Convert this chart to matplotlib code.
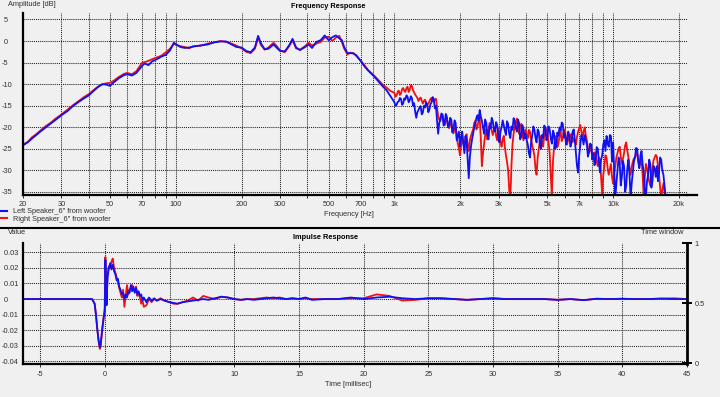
"""
Woofer measurement: frequency response and impulse response, left vs right.
"""
import numpy as np
import matplotlib
matplotlib.use('Agg')
import matplotlib.pyplot as plt
from matplotlib.lines import Line2D
from matplotlib.ticker import FixedLocator, NullFormatter

# frequency response below 1 kHz (Hz, dB)
lf_freq = [20, 21, 22, 23, 24, 25, 26, 27, 28, 30,
           32, 34, 36, 38, 40, 42, 44, 46, 48, 50,
           52, 55, 58, 60, 63, 66, 70, 72, 75, 78,
           82, 86, 90, 94, 98, 100, 105, 110, 115, 120,
           130, 140, 150, 160, 170, 180, 190, 200, 210, 220,
           230, 238, 245, 255, 265, 280, 290, 300, 315, 330,
           342, 355, 370, 390, 405, 420, 440, 460, 480, 500,
           520, 540, 560, 575, 590, 610, 630, 650, 670, 700,
           730, 760, 800, 840, 880, 920, 960]
lf_left = [-24.2, -23.5, -22.6, -21.8, -21.0, -20.3, -19.6, -19.0, -18.4, -17.2,
           -16.2, -15.0, -14.1, -13.3, -12.6, -11.6, -10.7, -10.0, -10.1, -10.4,
           -9.6, -8.6, -7.9, -7.7, -8.0, -7.4, -5.8, -5.2, -5.6, -4.7,
           -4.2, -3.6, -3.2, -2.2, -0.4, -0.7, -1.4, -1.6, -1.5, -1.3,
           -1.0, -0.8, -0.3, -0.1, -0.1, -0.8, -1.4, -1.5, -2.3, -2.6,
           -1.5, 1.2, -0.5, -1.9, -1.8, -0.8, -1.6, -2.3, -2.4, -1.0,
           0.5, -1.5, -2.1, -1.4, -0.8, -1.6, -0.2, 0.2, 1.3, 0.2,
           0.9, 1.3, 0.6, 0.2, -1.5, -2.8, -2.8, -2.9, -3.3, -4.6,
           -5.9, -6.9, -8.0, -9.2, -10.4, -11.4, -12.8]
lf_right = [-24.0, -23.4, -22.3, -21.6, -20.8, -20.0, -19.4, -18.8, -18.1, -17.0,
            -15.9, -14.8, -13.9, -13.0, -12.3, -11.4, -10.6, -10.1, -9.8, -9.7,
            -9.2, -8.3, -7.6, -7.4, -7.7, -7.0, -5.1, -4.9, -4.6, -4.2,
            -3.8, -3.4, -2.6, -1.8, -0.6, -0.9, -1.2, -1.4, -1.7, -1.2,
            -1.1, -0.6, -0.3, 0.0, -0.2, -0.6, -1.1, -1.7, -2.5, -2.8,
            -1.8, 0.8, -0.9, -2.0, -1.5, -0.4, -1.2, -2.2, -2.6, -1.2,
            0.2, -1.7, -2.0, -1.2, -0.4, -1.0, -0.6, -0.2, 0.8, 1.0,
            0.0, 0.8, 1.2, -0.2, -1.8, -3.1, -2.7, -2.8, -3.5, -4.5,
            -5.6, -6.8, -7.8, -8.9, -10.0, -10.8, -11.6]

# frequency response 1 kHz and up, read on a log grid (dB)
hf_left = [-14.2, -15.0, -14.8, -14.1, -14.0, -13.2, -13.4, -14.8, -14.5, -13.3,
           -13.6, -12.6, -12.9, -14.2, -13.8, -12.8, -13.2, -15.0, -14.4, -16.4,
           -17.8, -16.5, -16.0, -15.4, -15.1, -17.0, -16.6, -15.0, -15.4, -14.2,
           -14.8, -16.5, -15.9, -14.6, -14.2, -13.0, -13.5, -15.6, -15.0, -18.5,
           -21.5, -19.0, -18.0, -16.8, -17.2, -19.6, -18.8, -16.9, -17.6, -20.0,
           -19.4, -17.8, -18.2, -21.2, -20.5, -18.4, -19.0, -23.0, -22.0, -21.0,
           -24.5, -22.5, -21.0, -23.5, -26.0, -22.0, -23.0, -27.5, -31.8, -27.0,
           -24.5, -22.8, -21.5, -20.0, -19.0, -17.8, -17.2, -18.5, -16.0, -17.5,
           -18.5, -20.0, -21.5, -18.2, -19.0, -21.5, -22.8, -19.6, -20.2, -17.8,
           -18.6, -20.5, -21.0, -18.8, -19.5, -22.0, -23.5, -21.0, -20.0, -18.4,
           -19.5, -20.8, -21.8, -18.6, -19.2, -21.5, -22.5, -19.8, -20.6, -17.9,
           -18.5, -20.2, -21.0, -18.2, -19.0, -22.8, -22.2, -19.5, -20.4, -22.6,
           -21.5, -23.0, -24.0, -26.0, -27.0, -23.5, -22.0, -19.8, -20.5, -22.4,
           -23.5, -20.5, -21.0, -23.8, -25.0, -21.8, -22.5, -19.6, -20.0, -23.0,
           -22.0, -19.8, -20.5, -22.6, -23.8, -20.8, -21.5, -25.0, -24.5, -21.2,
           -22.0, -20.0, -20.8, -18.9, -19.2, -22.4, -21.5, -24.0, -23.0, -21.0,
           -22.0, -24.5, -23.5, -21.0, -20.5, -23.0, -26.0, -29.0, -30.5, -26.5,
           -24.0, -21.8, -22.5, -24.0, -21.8, -23.0, -24.0, -26.8, -25.5, -23.8,
           -24.0, -27.5, -26.0, -28.8, -27.5, -24.6, -25.0, -28.0, -30.5, -27.5,
           -26.5, -24.0, -23.0, -25.5, -22.0, -23.8, -24.5, -21.8, -22.0, -28.0,
           -23.5, -30.0, -36.5, -33.0, -30.0, -27.0, -28.0, -33.5, -31.5, -27.8,
           -29.0, -35.0, -33.5, -29.5, -27.5, -31.0, -36.5, -33.0, -30.5, -28.0,
           -27.0, -24.8, -25.0, -28.0, -29.5, -26.5, -25.5, -28.5, -30.5, -35.0,
           -36.0, -32.5, -31.0, -27.5, -28.5, -34.0, -32.5, -29.0, -29.5, -31.5,
           -29.0, -32.5, -30.5, -27.0, -27.5, -30.0, -31.0, -33.5, -36.0]
hf_right = [-12.0, -12.9, -12.6, -11.8, -11.5, -12.5, -12.2, -11.2, -10.9, -11.5,
            -11.8, -10.9, -10.6, -11.8, -11.3, -10.2, -10.4, -11.4, -11.9, -12.4,
            -12.8, -13.2, -13.9, -13.4, -13.1, -13.8, -14.5, -13.9, -13.6, -14.3,
            -14.9, -14.5, -14.0, -13.4, -13.2, -13.8, -14.1, -13.5, -13.4, -15.5,
            -17.4, -18.2, -18.6, -17.6, -17.0, -18.8, -19.5, -18.0, -18.3, -19.6,
            -20.2, -19.2, -19.0, -20.8, -21.4, -20.3, -20.0, -22.4, -23.8, -24.9,
            -26.5, -24.0, -22.5, -23.8, -24.8, -22.4, -21.6, -24.0, -25.5, -23.0,
            -22.0, -21.2, -20.5, -19.0, -18.5, -20.5, -19.8, -18.4, -17.8, -22.5,
            -29.0, -26.0, -24.0, -21.8, -20.5, -22.8, -22.0, -19.0, -19.6, -20.8,
            -21.8, -20.6, -20.0, -22.0, -23.0, -20.4, -21.0, -23.5, -24.5, -22.8,
            -22.0, -24.5, -26.5, -28.0, -30.0, -34.5, -37.0, -29.0, -24.0, -21.5,
            -19.8, -18.8, -18.0, -20.0, -21.5, -19.6, -19.2, -21.8, -23.0, -21.4,
            -20.5, -21.9, -22.5, -20.6, -21.0, -22.8, -24.0, -25.2, -26.5, -29.5,
            -31.0, -27.0, -25.0, -23.2, -22.0, -23.5, -24.5, -22.0, -21.0, -20.4,
            -21.5, -23.5, -26.0, -31.0, -36.0, -28.0, -24.5, -23.0, -22.0, -24.6,
            -23.8, -21.8, -21.0, -23.2, -22.5, -20.8, -20.5, -22.8, -24.0, -22.6,
            -23.0, -22.0, -21.5, -23.4, -22.5, -23.0, -24.0, -22.2, -21.0, -20.2,
            -19.5, -21.0, -22.5, -21.0, -20.0, -21.8, -23.0, -24.8, -26.0, -25.2,
            -25.0, -26.2, -27.5, -25.8, -26.0, -28.0, -29.0, -27.0, -27.5, -31.5,
            -35.5, -31.0, -29.0, -26.5, -27.0, -29.5, -31.0, -29.8, -28.5, -31.5,
            -33.0, -30.5, -29.0, -27.0, -26.0, -25.0, -24.5, -26.8, -28.5, -27.2,
            -26.0, -24.2, -23.5, -25.4, -27.0, -29.5, -31.0, -29.2, -28.0, -27.2,
            -27.0, -26.2, -26.0, -27.8, -29.0, -28.4, -27.5, -31.0, -36.5, -31.5,
            -28.5, -29.8, -31.0, -32.6, -33.5, -31.0, -29.5, -27.6, -27.0, -26.4,
            -26.8, -29.0, -31.0, -34.0, -36.5, -34.5, -33.0, -35.0, -36.5]
hf_start, hf_stop = 1000, 17400

# impulse response (ms, value)
ir_time = [-6.3, -1.0, -0.8, -0.7, -0.6, -0.5, -0.4, -0.35, -0.3, -0.2,
           -0.1, -0.02, 0.03, 0.08, 0.12, 0.16, 0.2, 0.3, 0.4, 0.5,
           0.6, 0.7, 0.8, 0.9, 1.0, 1.1, 1.2, 1.3, 1.4, 1.5,
           1.6, 1.7, 1.8, 1.9, 2.0, 2.1, 2.2, 2.3, 2.4, 2.5,
           2.6, 2.7, 2.8, 2.9, 3.0, 3.2, 3.4, 3.6, 3.8, 4.0,
           4.3, 4.6, 5.0, 5.3, 5.6, 6.0, 6.4, 6.8, 7.2, 7.6,
           8.0, 8.5, 9.0, 9.5, 10.0, 10.5, 11.0, 11.5, 12.0, 12.5,
           13.0, 13.5, 14.0, 14.5, 15.0, 15.5, 16.0, 17.0, 18.0, 19.0,
           20.0, 21.0, 22.0, 23.0, 24.0, 25.0, 26.0, 27.0, 28.0, 29.0,
           30.0, 31.0, 32.0, 33.0, 34.0, 35.0, 36.0, 37.0, 38.0, 39.0,
           40.0, 41.0, 42.0, 43.0, 44.0, 45.0]
ir_left = [0, 0, -0.003, -0.010, -0.019, -0.026, -0.031, -0.030, -0.026, -0.018,
           -0.012, -0.008, 0.025, 0.010, -0.004, 0.006, 0.014, 0.020, 0.023, 0.019,
           0.022, 0.018, 0.016, 0.012, 0.013, 0.008, 0.006, 0.003, 0.004, 0.000,
           0.003, 0.001, 0.005, 0.004, 0.009, 0.005, 0.008, 0.004, 0.007, 0.003,
           0.005, 0.002, 0.003, -0.001, 0.001, -0.002, 0.001, -0.001, 0.0005, -0.001,
           0.0, -0.001, -0.002, -0.0025, -0.003, -0.002, -0.0015, -0.001, -0.0005, 0.0,
           -0.0005, 0.0005, 0.0015, 0.001, 0.0, -0.0005, 0.0, -0.0005, 0.0, 0.0005,
           0.001, 0.0005, 0.0, 0.0005, 0.0, 0.001, -0.0005, 0.0, 0.0, 0.001,
           0.0, 0.001, 0.0015, 0.0005, 0.0, 0.0005, 0.0005, 0.0, -0.0005, 0.0,
           0.0005, 0.0, 0.0, 0.0, 0.0, -0.0005, 0.0, -0.0007, 0.0002, 0.0,
           0.0002, 0.0, 0.0, 0.0003, 0.0, 0.0]
ir_right = [0, 0, -0.003, -0.010, -0.019, -0.027, -0.032, -0.031, -0.027, -0.019,
            -0.011, -0.006, 0.027, 0.011, -0.003, 0.008, 0.016, 0.021, 0.020, 0.024,
            0.026, 0.020, 0.017, 0.014, 0.011, 0.007, 0.004, 0.001, 0.006, -0.005,
            0.002, 0.009, 0.003, 0.006, 0.007, 0.009, 0.006, 0.005, 0.008, 0.002,
            0.004, 0.001, -0.003, -0.001, -0.005, -0.004, 0.0, -0.002, 0.0, -0.001,
            0.0005, -0.001, -0.002, -0.003, -0.003, -0.002, -0.001, 0.001, -0.001, 0.002,
            0.001, 0.0, 0.0015, 0.001, 0.0, -0.0005, 0.0, 0.0, 0.0005, 0.001,
            0.0005, 0.001, 0.0, 0.0005, 0.0, 0.0005, 0.0, 0.0, 0.0, 0.0005,
            0.0005, 0.003, 0.002, -0.001, -0.0005, 0.0005, 0.0005, 0.0, -0.0005, 0.0,
            0.0005, 0.0, 0.0, 0.0, 0.0, -0.0005, 0.0, -0.0007, 0.0002, 0.0,
            0.0002, 0.0, 0.0, 0.0003, 0.0005, 0.0]

freq_ticks = [20, 30, 50, 70, 100, 200, 300, 500, 700,
              1000, 2000, 3000, 5000, 7000, 10000, 20000]
freq_labels = ['20', '30', '50', '70', '100', '200', '300', '500', '700',
               '1k', '2k', '3k', '5k', '7k', '10k', '20k']
freq_minor = [40, 60, 80, 90, 400, 600, 800, 900, 4000, 6000, 8000, 9000]
db_ticks = [5, 0, -5, -10, -15, -20, -25, -30, -35]
db_labels = [' 5', ' 0', '-5', '-10', '-15', '-20', '-25', '-30', '-35']
time_ticks = [-5, 0, 5, 10, 15, 20, 25, 30, 35, 40, 45]
value_ticks = [0.03, 0.02, 0.01, 0, -0.01, -0.02, -0.03, -0.04]
value_labels = [' 0.03', ' 0.02', ' 0.01', ' 0', '-0.01', '-0.02', '-0.03', '-0.04']
window_ticks = [0, 0.5, 1]
window_labels = ['0', '0.5', '1']

BG = '#f0f0f0'
BLUE = '#1010f0'
RED = '#f01010'
TXT = '#303030'
FS = 5.3
LW = 1.3
W, H = 720, 397

plt.rcParams['font.family'] = ['Liberation Sans', 'DejaVu Sans']


def fig_xy(px, py):
    """Pixel position in the 720x397 frame -> figure fraction."""
    return px / W, 1 - py / H


def grid_style(ax):
    ax.set_facecolor(BG)
    ax.grid(True, which='both', color='#202020', linestyle=(0, (1, 1)), linewidth=0.75)
    ax.set_axisbelow(True)
    for side in ('top', 'right'):
        ax.spines[side].set_visible(False)
    for side in ('left', 'bottom'):
        ax.spines[side].set_linewidth(1.6)
        ax.spines[side].set_color('black')
    ax.tick_params(axis='y', length=0, pad=15, labelsize=FS, labelcolor=TXT)
    ax.tick_params(axis='x', which='both', length=2.5, width=0.7, color='#303030',
                   pad=1.5, labelsize=FS, labelcolor=TXT)


fig = plt.figure(figsize=(W / 100, H / 100), dpi=100, facecolor=BG)

# --- frequency response ---
ax_fr = fig.add_axes([23 / W, (H - 195) / H, 664 / W, 182 / H])
grid_style(ax_fr)
ax_fr.set_xscale('log')

hf_freq_left = np.geomspace(hf_start, hf_stop, len(hf_left))
hf_freq_right = np.geomspace(hf_start, hf_stop, len(hf_right))
ax_fr.plot(lf_freq + list(hf_freq_right), lf_right + hf_right, color=RED, lw=LW)
ax_fr.plot(lf_freq + list(hf_freq_left), lf_left + hf_left, color=BLUE, lw=LW)

ax_fr.set_xlim(20, 21800)
ax_fr.set_ylim(-35.7, 6.5)
ax_fr.xaxis.set_major_locator(FixedLocator(freq_ticks))
ax_fr.xaxis.set_minor_locator(FixedLocator(freq_minor))
ax_fr.set_xticklabels(freq_labels)
ax_fr.xaxis.set_minor_formatter(NullFormatter())
ax_fr.set_yticks(db_ticks)
ax_fr.set_yticklabels(db_labels)
for lab in ax_fr.get_yticklabels():
    lab.set_horizontalalignment('left')
# axis line runs a bit past the plot area
ax_fr.plot([1, 1.015], [0, 0], transform=ax_fr.transAxes, clip_on=False,
           color='black', lw=1.6)

fig.text(*fig_xy(328, 7), 'Frequency Response', ha='center', va='center',
         fontsize=FS, fontweight='bold', color='black')
fig.text(*fig_xy(8, 5), 'Amplitude [dB]', ha='left', va='center', fontsize=FS, color=TXT)
fig.text(*fig_xy(349, 215), 'Frequency [Hz]', ha='center', va='center', fontsize=FS, color=TXT)

handles = [Line2D([], [], color=BLUE, lw=1.5), Line2D([], [], color=RED, lw=1.5)]
fig.legend(handles, ['Left Speaker_6" from woofer', 'Right Speaker_6" from woofer'],
           loc='upper left', bbox_to_anchor=fig_xy(1, 208), frameon=False,
           fontsize=FS, handlelength=0.8, handletextpad=0.8, labelspacing=0.05,
           borderpad=0, borderaxespad=0, labelcolor=TXT)

# separator between the two charts
fig.add_artist(Line2D([0, 1], [1 - 228 / H] * 2, color='black', lw=1.5))

# --- impulse response ---
ax_ir = fig.add_axes([23 / W, (H - 364) / H, 664 / W, 121 / H])
grid_style(ax_ir)
ax_ir.plot(ir_time, ir_right, color=RED, lw=LW)
ax_ir.plot(ir_time, ir_left, color=BLUE, lw=LW)
ax_ir.set_xlim(-6.34, 45)
ax_ir.set_ylim(-0.0417, 0.036)
ax_ir.set_xticks(time_ticks)
ax_ir.set_xticklabels([str(t) for t in time_ticks])
ax_ir.set_yticks(value_ticks)
ax_ir.set_yticklabels(value_labels)
for lab in ax_ir.get_yticklabels():
    lab.set_horizontalalignment('left')
ax_ir.tick_params(axis='x', pad=2.5)

ax_tw = ax_ir.twinx()
ax_tw.set_ylim(-0.008, 1.0)
ax_tw.set_yticks(window_ticks)
ax_tw.set_yticklabels(window_labels)
for side in ('top', 'left', 'bottom'):
    ax_tw.spines[side].set_visible(False)
ax_tw.spines['right'].set_linewidth(2)
ax_tw.tick_params(axis='y', direction='inout', length=7, width=1.4, pad=2,
                  labelsize=FS, labelcolor=TXT)

fig.text(*fig_xy(326, 237), 'Impulse Response', ha='center', va='center',
         fontsize=FS, fontweight='bold', color='black')
fig.text(*fig_xy(8, 233), 'Value', ha='left', va='center', fontsize=FS, color=TXT)
fig.text(*fig_xy(641, 233), 'Time window', ha='left', va='center', fontsize=FS, color=TXT)
fig.text(*fig_xy(348, 385), 'Time [millisec]', ha='center', va='center', fontsize=FS, color=TXT)

fig.savefig('out.png', dpi=100, facecolor=BG)
